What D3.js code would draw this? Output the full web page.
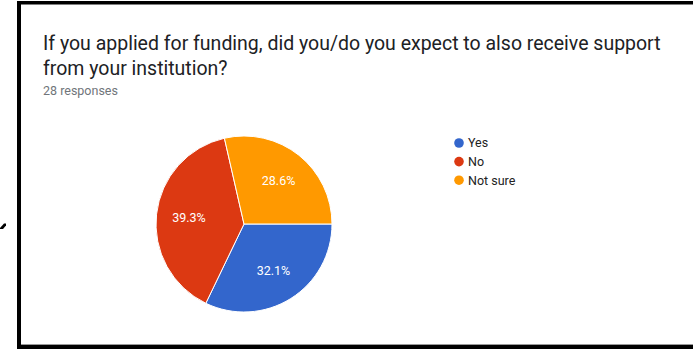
<!DOCTYPE html>
<html><head><meta charset="utf-8">
<script src="https://cdn.jsdelivr.net/npm/d3@7"></script>
<style>html,body{margin:0;padding:0;background:#fff;overflow:hidden}</style>
</head><body>
<script>
const categories = ["Yes", "No", "Not sure"];
const counts = [9, 11, 8];
const percentLabels = ["32.1%", "39.3%", "28.6%"];
const colors = ["#3366cc", "#dc3912", "#ff9900"];
const titleLines = ["If you applied for funding, did you/do you expect to also receive support", "from your institution?"];
const subtitle = "28 responses";

const W = 693, H = 349;
const svg = d3.select("body").append("svg").attr("width", W).attr("height", H).style("display", "block");
svg.append("rect").attr("width", W).attr("height", H).attr("fill", "#fff");

// frame (top, left, bottom only)
svg.append("rect").attr("x", 17).attr("y", 1).attr("width", W - 17).attr("height", 3.5).attr("fill", "#000");
svg.append("rect").attr("x", 17).attr("y", 1).attr("width", 4).attr("height", H - 1).attr("fill", "#000");
svg.append("rect").attr("x", 17).attr("y", 345).attr("width", W - 17).attr("height", 4).attr("fill", "#000");
svg.append("rect").attr("x", 21).attr("y", 344).attr("width", W - 21).attr("height", 1).attr("fill", "#999");
// small arrow tip at left
svg.append("path").attr("d", "M0,228 L4,223.5 L6,223.5 L6,225.5 L3,229 L0,229 Z").attr("fill", "#000");

// title
const font = "Roboto, 'Noto Sans', Arial, sans-serif";
const t1 = svg.append("text").attr("x", 43).attr("y", 50).attr("font-family", font)
  .attr("font-size", 19).attr("fill", "#202124").text(titleLines[0]);
const wanted = 618;
const got = t1.node().getComputedTextLength();
const fs = 19 * wanted / got;
t1.attr("font-size", fs);
svg.append("text").attr("x", 43).attr("y", 75).attr("font-family", font)
  .attr("font-size", fs).attr("fill", "#202124").text(titleLines[1]);
svg.append("text").attr("x", 43).attr("y", 95).attr("font-family", font)
  .attr("font-size", 12.5).attr("fill", "#70757a").text(subtitle);

// pie
const cx = 244, cy = 224, r = 88;
const pie = d3.pie().value(d => d).sort(null).startAngle(Math.PI / 2).endAngle(Math.PI / 2 + 2 * Math.PI);
const arcs = pie(counts);
const arc = d3.arc().innerRadius(0).outerRadius(r);
const g = svg.append("g").attr("transform", `translate(${cx},${cy})`);
g.selectAll("path").data(arcs).join("path")
  .attr("d", arc).attr("fill", (d, i) => colors[i])
  .attr("stroke", "#fff").attr("stroke-width", 1);
const labelArc = d3.arc().innerRadius(r * 0.63).outerRadius(r * 0.63);
g.selectAll("text").data(arcs).join("text")
  .attr("transform", d => `translate(${labelArc.centroid(d)})`)
  .attr("text-anchor", "middle").attr("dy", "0.35em")
  .attr("font-family", font).attr("font-size", 12.5).attr("fill", "#fff")
  .text((d, i) => percentLabels[i]);

// legend
const lg = svg.append("g").attr("transform", "translate(459,143)");
categories.forEach((c, i) => {
  const row = lg.append("g").attr("transform", `translate(0,${i * 18.6})`);
  row.append("circle").attr("r", 4.8).attr("fill", colors[i]);
  row.append("text").attr("x", 9).attr("dy", "0.35em").attr("font-family", font)
    .attr("font-size", 12.5).attr("fill", "#222").text(c);
});
</script>
</body></html>
